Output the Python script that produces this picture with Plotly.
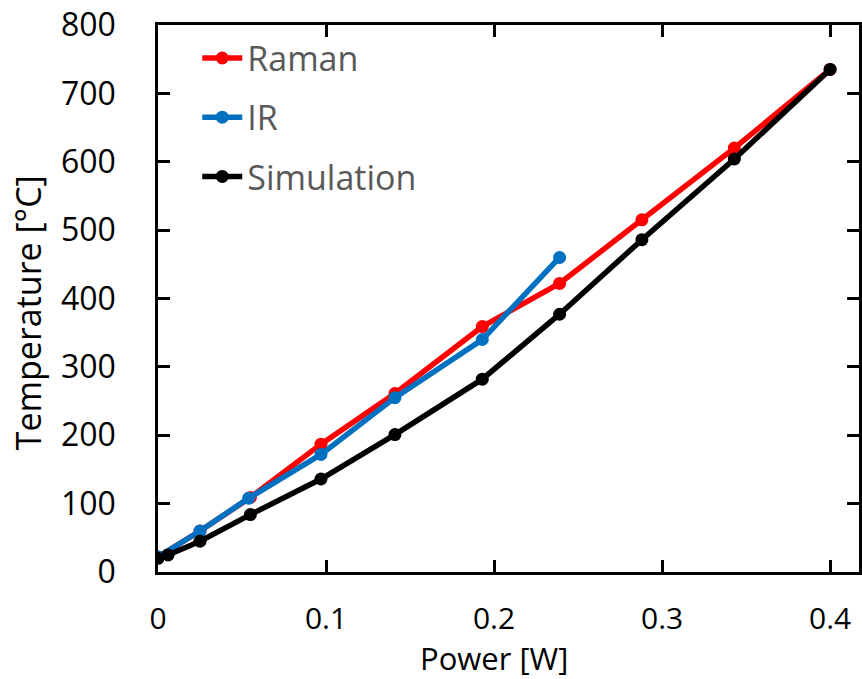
import plotly.graph_objects as go

# Data
raman_power = [0.0, 0.025, 0.055, 0.097, 0.141, 0.193, 0.239, 0.288, 0.343, 0.4]
raman_temp = [22, 60, 109, 187, 261, 359, 422, 515, 620, 735]

ir_power = [0.0, 0.025, 0.054, 0.097, 0.141, 0.193, 0.239]
ir_temp = [22, 60, 108, 172, 255, 340, 460]

sim_power = [0.0, 0.006, 0.025, 0.055, 0.097, 0.141, 0.193, 0.239, 0.288, 0.343, 0.4]
sim_temp = [20, 25, 45, 84, 136, 201, 282, 377, 486, 604, 735]

x_ticks = [0, 0.1, 0.2, 0.3, 0.4]
x_tick_labels = ["0", "0.1", "0.2", "0.3", "0.4"]
y_ticks = [0, 100, 200, 300, 400, 500, 600, 700, 800]

FONT = "Open Sans"

fig = go.Figure()
series = [
    ("Raman", raman_power, raman_temp, "#FF0000"),
    ("IR", ir_power, ir_temp, "#0070C0"),
    ("Simulation", sim_power, sim_temp, "#000000"),
]
for name, xs, ys, col in series:
    fig.add_trace(go.Scatter(
        x=xs, y=ys, name=name, mode="lines+markers",
        line=dict(color=col, width=5.5),
        marker=dict(color=col, size=13),
        legendgroup=name,
    ))

fig.update_layout(
    width=862, height=679,
    margin=dict(l=158, r=0, t=25, b=107),
    paper_bgcolor="white", plot_bgcolor="white",
    font=dict(family=FONT, color="black", size=32),
    showlegend=True,
    legend=dict(
        x=0.056, y=0.992, xanchor="left", yanchor="top",
        font=dict(family=FONT, size=34, color="#595959"),
        bgcolor="rgba(0,0,0,0)", tracegroupgap=12,
        itemwidth=40,
    ),
    xaxis=dict(
        range=[0, 0.4172], tickvals=x_ticks, ticktext=x_tick_labels,
        showgrid=False, zeroline=False,
        showline=True, linecolor="black", linewidth=2.5, mirror="ticks",
        ticks="inside", ticklen=12, tickwidth=2.5, tickcolor="black",
        tickfont=dict(family=FONT, size=30, color="black"),
        ticklabelstandoff=18,
    ),
    yaxis=dict(
        range=[0, 800], tickvals=y_ticks,
        showgrid=False, zeroline=False,
        showline=True, linecolor="black", linewidth=2.5, mirror="ticks",
        ticks="inside", ticklen=12, tickwidth=2.5, tickcolor="black",
        tickfont=dict(family=FONT, size=32, color="black"),
        ticklabelstandoff=33,
    ),
    annotations=[
        dict(text="Power [W]", xref="x", yref="paper", x=0.2, y=-0.158,
             xanchor="center", yanchor="middle", showarrow=False,
             font=dict(family=FONT, size=31, color="black")),
        dict(text="Temperature [°C]", xref="paper", yref="paper", x=-0.185, y=0.4735,
             xanchor="center", yanchor="middle", showarrow=False, textangle=-90,
             font=dict(family=FONT, size=34, color="black")),
    ],
)

fig.write_html("out.html", config={"displayModeBar": False},
               post_script="document.body.style.margin='0px';")
